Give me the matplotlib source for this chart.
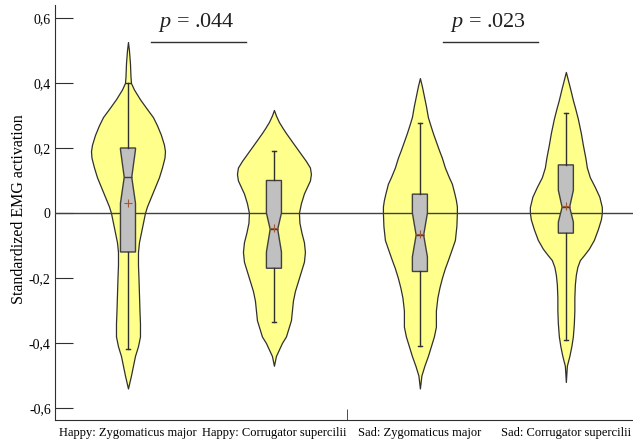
import matplotlib
matplotlib.use("Agg")
import matplotlib.pyplot as plt

plt.rcParams['font.family'] = ['Liberation Serif', 'DejaVu Serif']
plt.rcParams['mathtext.fontset'] = 'custom'
plt.rcParams['mathtext.rm'] = 'Liberation Serif'
plt.rcParams['mathtext.it'] = 'Liberation Serif:italic'

# Categories
categories = ['Happy: Zygomaticus major', 'Happy: Corrugator supercilii',
              'Sad: Zygomaticus major', 'Sad: Corrugator supercilii']

# Violin outlines: y value and relative density (half width)
v1_y = [0.526, 0.50, 0.46, 0.42, 0.40, 0.38, 0.35, 0.32, 0.295, 0.27, 0.24, 0.21, 0.19,
        0.17, 0.14, 0.11, 0.08, 0.05, 0.02, 0.0, -0.03, -0.06, -0.09, -0.12, -0.16, -0.2,
        -0.25, -0.3, -0.34, -0.38, -0.41, -0.44, -0.47, -0.5, -0.54]
v1_d = [0, 1, 2, 2.5, 3, 6, 12, 19, 25, 29, 33, 36, 37,
        36.5, 34, 31, 27, 23, 19, 17, 15, 13, 11, 10, 10, 10.5,
        11, 11.5, 12, 12, 10, 7, 5, 3, 0]

v2_y = [0.317, 0.30, 0.28, 0.26, 0.246, 0.22, 0.19, 0.16, 0.14, 0.12, 0.10, 0.08, 0.06,
        0.03, 0.0, -0.03, -0.06, -0.09, -0.12, -0.15, -0.18, -0.21, -0.24, -0.27, -0.3,
        -0.33, -0.36, -0.38, -0.40, -0.42, -0.44, -0.47]
v2_d = [0, 2, 5, 9, 12, 18, 25, 32, 36, 37, 36, 33, 30,
        27, 25, 25.5, 27.5, 30, 31, 30, 27, 24, 21, 19, 18,
        17, 14, 12, 8, 5, 2, 0]

v3_y = [0.415, 0.39, 0.36, 0.33, 0.295, 0.27, 0.246, 0.22, 0.194, 0.17, 0.14, 0.11, 0.09,
        0.06, 0.04, 0.02, 0.0, -0.04, -0.083, -0.11, -0.145, -0.17, -0.2, -0.23, -0.26,
        -0.3, -0.35, -0.38, -0.41, -0.44, -0.47, -0.5, -0.54]
v3_d = [0, 2, 4, 6, 8, 10.5, 13, 16, 19, 22, 25, 29, 32,
        34.5, 36, 37, 37, 36.5, 35, 32, 28, 25, 22, 19.5, 17.5,
        16, 16, 14, 11, 8, 4.5, 1.5, 0]

v4_y = [0.434, 0.41, 0.38, 0.348, 0.32, 0.29, 0.246, 0.21, 0.17, 0.14, 0.11, 0.08, 0.05,
        0.018, 0.0, -0.02, -0.05, -0.083, -0.11, -0.13, -0.145, -0.166, -0.19, -0.22,
        -0.26, -0.3, -0.34, -0.38, -0.41, -0.44, -0.47, -0.52]
v4_d = [0, 2, 4.5, 7, 9.5, 12, 15, 17, 19.5, 21, 24, 29, 33.5,
        36, 36, 35, 32, 28, 23, 18, 14, 11.5, 10, 9,
        8.5, 8.5, 8, 7, 5.5, 3.5, 1, 0]

# Box statistics
medians = [0.11, -0.05, -0.068, 0.018]
q1s = [-0.12, -0.17, -0.18, -0.062]
q3s = [0.20, 0.10, 0.058, 0.148]
whis_lo = [-0.42, -0.335, -0.41, -0.39]
whis_hi = [0.40, 0.19, 0.277, 0.308]
means = [0.03, -0.046, -0.065, 0.02]
ci_lo = [0.03, -0.12, -0.135, -0.028]
ci_hi = [0.195, 0.0, 0.0, 0.07]

p_labels = ['$p$ = .044', '$p$ = .023']

y_ticks = [-0.6, -0.4, -0.2, 0, 0.2, 0.4, 0.6]
y_tick_labels = ['-0,6', '-0,4', '-0,2', '0', '0,2', '0,4', '0,6']

fig = plt.figure(figsize=(6.33, 4.4), dpi=100)
ax = fig.add_axes([55 / 633, 20 / 440, 578 / 633, 415 / 440])

positions = [1, 2, 3, 4]
density_scale = 1 / 146  # density units -> x units
profiles = [(v1_y, v1_d), (v2_y, v2_d), (v3_y, v3_d), (v4_y, v4_d)]
for pos, (ys, ds) in zip(positions, profiles):
    left = [pos - d * density_scale for d in ds]
    right = [pos + d * density_scale for d in ds]
    ax.fill_betweenx(ys, left, right, facecolor='#ffff8c', edgecolor='#303030',
                     linewidth=0.9, zorder=2)

ax.axhline(0, color='#404040', linewidth=1.0, zorder=3)

stats = []
for i in range(4):
    stats.append(dict(med=medians[i], q1=q1s[i], q3=q3s[i], whislo=whis_lo[i],
                      whishi=whis_hi[i], mean=means[i], cilo=ci_lo[i], cihi=ci_hi[i],
                      fliers=[]))
ax.bxp(stats, positions=positions, widths=0.103, shownotches=True, showmeans=True,
       patch_artist=True, capwidths=0.03, manage_ticks=False, zorder=4,
       boxprops=dict(facecolor='#c0c0c0', edgecolor='#404040', linewidth=1.0),
       medianprops=dict(color='#404040', linewidth=1.0),
       whiskerprops=dict(color='#303030', linewidth=1.0),
       capprops=dict(color='#303030', linewidth=1.0),
       meanprops=dict(marker='+', markeredgecolor='#a05a3a', markersize=6,
                      markeredgewidth=0.8))

# p-value annotations
for (a, b), lab in zip([(1, 2), (3, 4)], p_labels):
    mid = (a + b) / 2
    ax.text(mid - 0.03, 0.585, lab, ha='center', va='center', fontsize=16, color='#202020')
    ax.plot([mid - 0.34, mid + 0.31], [0.526, 0.526], color='#303030', linewidth=1.0)

ax.set_xlim(0.5, 4.46)
ax.set_ylim(-0.637, 0.64)
ax.set_yticks(y_ticks)
ax.set_yticklabels(y_tick_labels)
ax.set_xticks(positions)
ax.set_xticklabels(categories)
ax.set_xticks([2.5], minor=True)
ax.tick_params(axis='x', which='major', length=0, labelsize=9, pad=5)
ax.tick_params(axis='x', which='minor', direction='in', length=8, color='#303030')
ax.tick_params(axis='y', direction='in', length=13, labelsize=10, pad=3, color='#303030')

ax.set_ylabel('Standardized EMG activation', fontsize=11.5)
ax.yaxis.set_label_coords(-28 / 578, 0.507)

for side in ['top', 'right']:
    ax.spines[side].set_visible(False)
for side in ['left', 'bottom']:
    ax.spines[side].set_color('#303030')

fig.savefig('out.png', dpi=100)
